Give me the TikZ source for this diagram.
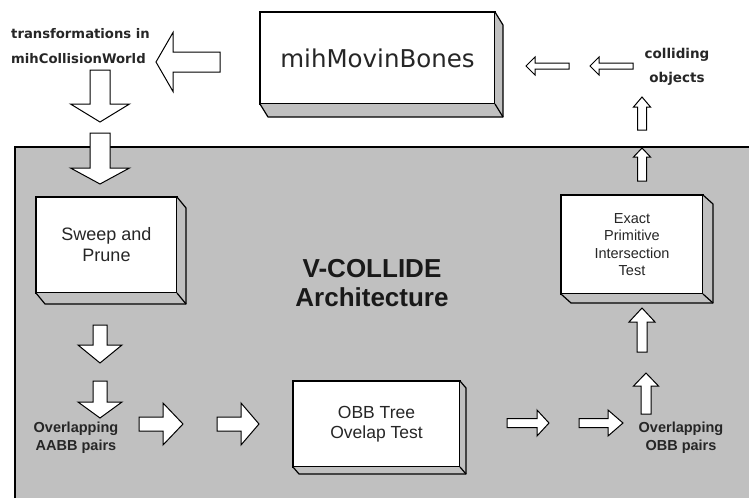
\documentclass[tikz,border=0pt]{standalone}
\usepackage{fontspec}
\setmainfont{Liberation Sans}
\newfontfamily\dejavu{DejaVu Sans}
\usetikzlibrary{calc}
\definecolor{panel}{HTML}{C0C0C0}
\definecolor{txt}{HTML}{262626}
\newcommand{\blockarr}[6]{\draw[blockarrow, shift={#1}, rotate=#2] (0,0) -- (-#4,#5) -- (-#4,#6) -- (-#3,#6) -- (-#3,-#6) -- (-#4,-#6) -- (-#4,-#5) -- cycle;}
\newcommand{\threed}[3]{%
  \fill[panel] (#1.south west) -- (#1.south east) -- (#1.north east) -- ($(#1.north east)+(#2,#3)$) -- ($(#1.south east)+(#2,#3)$) -- ($(#1.south west)+(#2,#3)$) -- cycle;
  \draw[boxline] (#1.south west) -- ($(#1.south west)+(#2,#3)$) -- ($(#1.south east)+(#2,#3)$) -- ($(#1.north east)+(#2,#3)$) -- (#1.north east);
  \draw[boxline] (#1.south east) -- ($(#1.south east)+(#2,#3)$);}
\tikzset{
  blockarrow/.style={draw=black, fill=white, line width=1pt, line join=miter},
  boxline/.style={draw=black, line width=1.2pt, line join=round},
  box/.style={draw=black, fill=white, line width=1.2pt, outer sep=0pt, inner sep=0pt, align=center, text=txt},
  lbl/.style={align=center, text=txt, inner sep=0pt},
}
\begin{document}
\begin{tikzpicture}[x=1pt, y=-1pt]
\useasboundingbox (0,0) rectangle (749,498);
\fill[white] (0,0) rectangle (749,498);
% panel
\fill[panel] (15,147) rectangle (749,498);
\draw[line width=1.2pt] (15,498) -- (15,147) -- (749,147);

% boxes
\node[box, minimum width=235pt, minimum height=92pt, font=\dejavu\fontsize{24.5}{28}\selectfont] (mih) at (377.5,58) {mihMovinBones};
\threed{mih}{8}{13}
\node[box, minimum width=141pt, minimum height=96pt, font=\fontsize{18}{21}\selectfont] (sap) at (106.5,245) {Sweep and\\Prune};
\threed{sap}{9}{11}
\node[box, minimum width=142pt, minimum height=99pt, font=\fontsize{14.5}{17.5}\selectfont] (epi) at (632,244.5) {Exact\\Primitive\\Intersection\\Test};
\threed{epi}{10}{9}
\node[box, minimum width=167pt, minimum height=86pt, font=\fontsize{17.5}{20}\selectfont] (obb) at (376.5,424) {OBB Tree\\Ovelap Test};
\threed{obb}{6}{7}

% labels
\node[lbl, font=\bfseries\fontsize{26}{29}\selectfont, text=black!90] (title) at (372,283) {V-COLLIDE\\Architecture};
\node[lbl, align=left, anchor=west, font=\dejavu\bfseries\fontsize{13.2}{25}\selectfont] (trans) at (11,46) {transformations in\\mihCollisionWorld};
\node[lbl, font=\dejavu\bfseries\fontsize{13.5}{24}\selectfont] (coll) at (677,67) {colliding\\objects};
\node[lbl, font=\bfseries\fontsize{14.5}{18}\selectfont] (aabb) at (76,438) {Overlapping\\AABB pairs};
\node[lbl, font=\bfseries\fontsize{14.5}{18}\selectfont] (obbp) at (681,438) {Overlapping\\OBB pairs};

% block arrows: tip, angle, length, head length, head half width, shaft half width
\blockarr{(156,62)}{180}{64}{17}{29.5}{10}
\blockarr{(100,122)}{-90}{52}{18}{29.5}{10}
\blockarr{(100,184)}{-90}{51}{16}{29.5}{10}
\blockarr{(100,363)}{-90}{38}{18}{22}{7}
\blockarr{(100,418)}{-90}{37}{16}{22}{7}
\blockarr{(183,424)}{0}{44}{20}{21}{7}
\blockarr{(259,424)}{0}{42}{18}{21}{7}
\blockarr{(549,423)}{0}{42}{12}{13}{4.5}
\blockarr{(623,423)}{0}{44}{15}{13}{4.5}
\blockarr{(646,373)}{90}{41}{13}{12.5}{5}
\blockarr{(642,308)}{90}{44}{14}{13}{5}
\blockarr{(642,148)}{90}{33}{9}{8.5}{4.5}
\blockarr{(642,97)}{90}{33}{10}{8.5}{4.5}
\blockarr{(526,66)}{180}{43}{9}{9}{3}
\blockarr{(590,66)}{180}{43}{9}{9}{3}
\end{tikzpicture}
\end{document}
